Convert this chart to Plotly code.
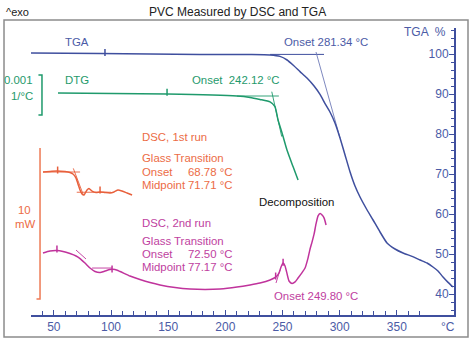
import plotly.graph_objects as go

# ---------------- data ----------------
# TGA: residual mass (%) vs temperature (°C)
tga_T = [30.0, 90.4, 134.1, 177.8, 221.6, 239.1, 247.8, 254.0, 259.2, 265.3, 271.4,
         277.6, 282.8, 287.2, 291.5, 295.9, 300.3, 304.7, 309.1, 313.4, 317.8, 323.0,
         329.2, 335.3, 341.4, 348.4, 355.4, 363.3, 370.3, 376.4, 381.6, 386.0, 390.4,
         394.8, 399.1]
tga_pct = [100.25, 100.1, 100.0, 99.9, 99.85, 99.75, 99.4, 98.5, 97.25, 95.6, 94.0,
           92.0, 89.9, 87.6, 85.5, 82.75, 79.0, 74.75, 70.5, 67.0, 64.25, 61.5,
           58.5, 55.5, 52.75, 51.25, 50.25, 49.4, 48.5, 47.75, 46.75, 45.75, 44.25,
           42.9, 41.75]

# DTG: derivative of mass (1/°C)
dtg_T = [53.6, 149.0, 210.2, 221.6, 230.3, 239.1, 243.4, 246.1, 249.6, 253.9, 259.2, 263.6]
dtg_val = [0.0, -0.000025, -0.000075, -0.00011, -0.00016, -0.00022, -0.00034,
           -0.000675, -0.001, -0.001425, -0.00184, -0.002175]

# DSC, 1st run: heat flow (mW, exo up)
dsc1_T = [40.5, 46.6, 52.7, 59.7, 64.1, 66.7, 69.4, 71.1, 72.9, 74.6, 76.4, 79.0,
          80.7, 83.4, 86.9, 90.4, 94.7, 99.1, 102.6, 106.1, 109.6, 114.0, 118.4]
dsc1_mW = [9.47, 9.50, 9.54, 9.50, 9.44, 9.34, 9.07, 8.68, 8.28, 8.01, 7.95, 8.28,
           8.38, 8.21, 8.11, 8.15, 8.11, 8.08, 8.15, 8.28, 8.21, 8.08, 7.95]

# DSC, 2nd run: heat flow (mW, exo up)
dsc2_T = [40.5, 46.6, 52.7, 58.0, 64.1, 69.4, 72.9, 77.2, 81.6, 86.0, 90.4, 94.7,
          99.1, 103.5, 107.9, 116.6, 125.3, 134.1, 142.8, 156.0, 169.1, 182.2, 195.3,
          210.2, 221.6, 230.3, 239.1, 244.3, 246.9, 248.7, 250.5, 252.2, 254.0, 255.7,
          258.3, 261.0, 263.6, 267.1, 269.7, 272.3, 274.1, 275.8, 277.6, 279.3, 281.1,
          282.9, 284.6, 286.4, 288.1]
dsc2_mW = [4.11, 4.24, 4.27, 4.21, 4.07, 3.91, 3.74, 3.44, 3.11, 2.88, 2.81, 2.91,
           3.01, 3.01, 2.88, 2.58, 2.35, 2.15, 1.99, 1.82, 1.72, 1.69, 1.72,
           1.85, 1.99, 2.12, 2.32, 2.52, 2.78, 3.18, 3.44, 3.25, 2.72, 2.25,
           2.09, 2.19, 2.45, 2.81, 3.11, 3.77, 4.37, 4.83, 5.36, 6.03, 6.56,
           6.72, 6.62, 6.42, 5.96]

# evaluation constructions (tangents / baselines)
tga_base_T, tga_base_pct = [239.1, 286.3], [99.9, 99.9]
tga_tan_T, tga_tan_pct = [279.3, 300.3], [100.5, 79.0]
dtg_base_T, dtg_base_val = [210.2, 246.8], [-0.000075, -0.000075]
dtg_tan_T, dtg_tan_val = [240.6, 249.3], [0.0000325, -0.00109]
dsc1_upper_T, dsc1_upper_mW = [40.5, 72.9], [9.47, 9.47]
dsc1_tan_T, dsc1_tan_mW = [67.0, 75.8], [9.71, 7.95]
dsc1_lower_T, dsc1_lower_mW = [70.0, 100.0], [8.13, 8.13]
dsc2_upper_T, dsc2_upper_mW = [69.4, 78.1], [4.30, 3.71]
dsc2_lower_T, dsc2_lower_mW = [83.4, 100.9], [3.11, 3.11]
dsc2_on_T, dsc2_on_mW = [244.3, 247.8], [2.12, 2.98]

# evaluation limit markers
tga_mark_T, tga_mark_pct = [94.7], [100.35]
dtg_mark_T, dtg_mark_val = [149.0], [0.00002]
dsc1_mark_T, dsc1_mark_mW = [53.3, 90.4], [9.6, 8.28]
dsc2_mark_T, dsc2_mark_mW = [52.7, 100.9, 244.0, 250.5], [4.37, 3.05, 2.58, 3.5]

# scale bars
dtg_bar = [0.00045, -0.00055]     # 0.001 1/°C
dsc_bar = [11.06, 1.06]           # 10 mW

x_ticks = [50, 100, 150, 200, 250, 300, 350]
y_ticks = [40, 50, 60, 70, 80, 90, 100]

# ---------------- styles ----------------
BLUE = "#3f4f9e"
BLUE_TXT = "#4b5ba6"
GREEN = "#1f9a6c"
ORANGE = "#e8603c"
ORANGE_TXT = "#ec6b45"
MAGENTA = "#c0339c"
MAGENTA_TXT = "#c03ea0"
FONT = "Liberation Sans, Arial, sans-serif"
LABEL_SIZE = 11.4

fig = go.Figure()


def line(x, y, color, width=1.5, yaxis="y"):
    fig.add_trace(go.Scatter(x=x, y=y, mode="lines", yaxis=yaxis,
                             line=dict(color=color, width=width, shape="spline", smoothing=0.5),
                             hoverinfo="skip", showlegend=False))


def seg(x, y, color, yaxis="y", width=0.9):
    fig.add_trace(go.Scatter(x=x, y=y, mode="lines", yaxis=yaxis,
                             line=dict(color=color, width=width),
                             hoverinfo="skip", showlegend=False))


def marks(x, y, color, yaxis="y"):
    fig.add_trace(go.Scatter(x=x, y=y, mode="markers", yaxis=yaxis,
                             marker=dict(symbol="line-ns", size=5,
                                         line=dict(color=color, width=1.5)),
                             hoverinfo="skip", showlegend=False))


# TGA
seg(tga_base_T, tga_base_pct, BLUE, width=1)
seg(tga_tan_T, tga_tan_pct, "#6f7bb8")
line(tga_T, tga_pct, BLUE)
marks(tga_mark_T, tga_mark_pct, BLUE)

# DTG
seg(dtg_base_T, dtg_base_val, GREEN, yaxis="y2")
seg(dtg_tan_T, dtg_tan_val, GREEN, yaxis="y2")
line(dtg_T, dtg_val, GREEN, yaxis="y2")
marks(dtg_mark_T, dtg_mark_val, GREEN, yaxis="y2")

# DSC runs
for tx, ty in [(dsc1_upper_T, dsc1_upper_mW), (dsc1_tan_T, dsc1_tan_mW),
               (dsc1_lower_T, dsc1_lower_mW)]:
    seg(tx, ty, ORANGE, yaxis="y3")
line(dsc1_T, dsc1_mW, ORANGE, yaxis="y3")
marks(dsc1_mark_T, dsc1_mark_mW, ORANGE, yaxis="y3")

for tx, ty in [(dsc2_upper_T, dsc2_upper_mW), (dsc2_lower_T, dsc2_lower_mW),
               (dsc2_on_T, dsc2_on_mW)]:
    seg(tx, ty, MAGENTA, yaxis="y3")
line(dsc2_T, dsc2_mW, MAGENTA, yaxis="y3")
marks(dsc2_mark_T, dsc2_mark_mW, MAGENTA, yaxis="y3")

# scale bars
fig.add_trace(go.Scatter(x=[36.5, 39.6, 39.6, 36.5], y=[dtg_bar[0], dtg_bar[0], dtg_bar[1], dtg_bar[1]],
                         mode="lines", yaxis="y2", line=dict(color=GREEN, width=1.5),
                         hoverinfo="skip", showlegend=False))
fig.add_trace(go.Scatter(x=[37.9, 37.9, 34.8], y=[dsc_bar[0], dsc_bar[1], dsc_bar[1]],
                         mode="lines", yaxis="y3", line=dict(color="#ee7a55", width=1.5),
                         hoverinfo="skip", showlegend=False))

# ---------------- annotations ----------------
ann = []


def text(x, y, s, color, anchor="center", size=LABEL_SIZE, xref="x", yref="y"):
    ann.append(dict(x=x, y=y, xref=xref, yref=yref, text=s, showarrow=False,
                    xanchor=anchor, yanchor="middle",
                    font=dict(family=FONT, size=size, color=color)))


text(0.487, 1.056, "PVC Measured by DSC and TGA", "#222222", size=12, xref="paper", yref="paper")
text(-0.064, 1.056, "^exo", "#222222", anchor="left", size=11, xref="paper", yref="paper")
text(394.8, 105.5, "TGA  %", BLUE_TXT, anchor="right", size=12)
text(395.0, -0.042, "°C", BLUE_TXT, size=12, yref="paper")

text(70.2, 103.0, "TGA", BLUE_TXT)
text(288.0, 103.0, "Onset 281.34 °C", BLUE_TXT)

text(70.2, 93.5, "DTG", GREEN)
text(209.3, 93.5, "Onset  242.12 °C", GREEN)
text(33.2, 93.5, "0.001", GREEN, anchor="right")
text(33.2, 89.5, "1/°C", GREEN, anchor="right")

text(-0.0165, 0.366, "10", ORANGE_TXT, xref="paper", yref="paper")
text(-0.0142, 0.317, "mW", ORANGE_TXT, xref="paper", yref="paper")

VALUE_END = 207.4  # right edge of the value column

text(125.3, 79.25, "DSC, 1st run", ORANGE_TXT, anchor="left")
text(125.3, 74.0, "Glass Transition", ORANGE_TXT, anchor="left")
text(125.3, 70.5, "Onset", ORANGE_TXT, anchor="left")
text(VALUE_END, 70.5, "68.78 °C", ORANGE_TXT, anchor="right")
text(125.3, 67.25, "Midpoint", ORANGE_TXT, anchor="left")
text(VALUE_END, 67.25, "71.71 °C", ORANGE_TXT, anchor="right")

text(125.3, 57.75, "DSC, 2nd run", MAGENTA_TXT, anchor="left")
text(125.3, 53.25, "Glass Transition", MAGENTA_TXT, anchor="left")
text(125.3, 50.0, "Onset", MAGENTA_TXT, anchor="left")
text(VALUE_END, 50.0, "72.50 °C", MAGENTA_TXT, anchor="right")
text(125.3, 46.75, "Midpoint", MAGENTA_TXT, anchor="left")
text(VALUE_END, 46.75, "77.17 °C", MAGENTA_TXT, anchor="right")
text(279.3, 39.5, "Onset 249.80 °C", MAGENTA_TXT)

text(261.8, 63.0, "Decomposition", "#111111")

fig.update_layout(
    width=474, height=345,
    margin=dict(l=31, r=20, t=28, b=30),
    paper_bgcolor="white", plot_bgcolor="white",
    font=dict(family=FONT, size=12, color=BLUE_TXT),
    showlegend=False,
    annotations=ann,
    shapes=[dict(type="rect", xref="paper", yref="paper",
                 x0=-0.0638, x1=1.0331, y0=-0.0767, y1=1.0279,
                 line=dict(color="#8c8c8c", width=1.5), layer="below")],
    xaxis=dict(range=[30, 400], showgrid=False, zeroline=False,
               showline=True, linecolor=BLUE, linewidth=1.5,
               tickvals=x_ticks, ticks="inside", ticklen=5, tickwidth=1.2,
               tickcolor=BLUE, tickfont=dict(size=12, color=BLUE_TXT),
               minor=dict(tick0=0, dtick=10, ticks="inside", ticklen=4,
                          tickwidth=1.2, tickcolor=BLUE)),
    yaxis=dict(range=[34.75, 106.5], side="right", showgrid=False, zeroline=False,
               showline=True, linecolor=BLUE, linewidth=1.5,
               tickvals=y_ticks, ticks="inside", ticklen=5, tickwidth=1.2,
               tickcolor=BLUE, ticklabelposition="inside",
               tickfont=dict(size=12, color=BLUE_TXT),
               minor=dict(tick0=0, dtick=2, ticks="inside", ticklen=3,
                          tickwidth=1.2, tickcolor=BLUE)),
    yaxis2=dict(range=[-0.00555, 0.001625], overlaying="y", visible=False, anchor="x"),
    yaxis3=dict(range=[0, 19.007], overlaying="y", visible=False, anchor="x"),
)

fig.write_html("out.html")
